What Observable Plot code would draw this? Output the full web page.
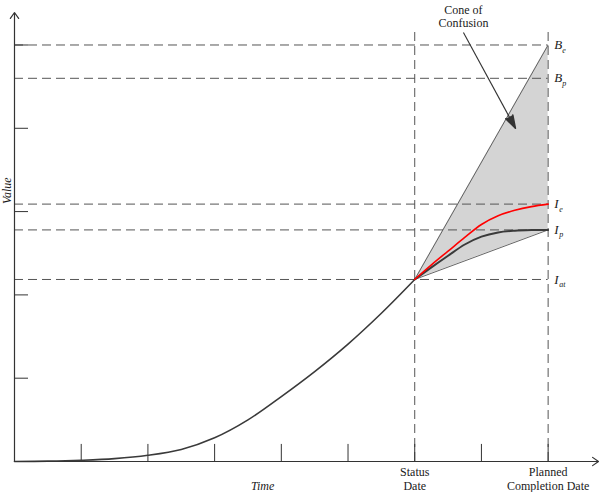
<!DOCTYPE html>
<html>
<head>
<meta charset="utf-8">
<script src="https://cdn.jsdelivr.net/npm/d3@7"></script>
<script src="https://cdn.jsdelivr.net/npm/@observablehq/plot@0.6"></script>
<style>
  html, body { margin: 0; padding: 0; background: #fff; }
</style>
</head>
<body>
<div id="chart"></div>
<script>
// ---- data ----
const timeTicks = [1, 2, 3, 4, 5, 6, 7, 8];
const valueTicks = [1, 2, 3, 4, 5];

// S-curve of actual progress up to the status date
const sCurveTime  = [0, 0.5, 1, 1.5, 2, 2.5, 3, 3.5, 4, 4.5, 5, 5.5, 6];
const sCurveValue = [0, 0.004, 0.015, 0.035, 0.075, 0.145, 0.285, 0.50, 0.78, 1.08, 1.41, 1.78, 2.185];

// forecast curves from status date to planned completion
const forecastTime = [6, 6.25, 6.5, 6.75, 7, 7.25, 7.5, 7.75, 8];
const forecastIe   = [2.185, 2.36, 2.525, 2.69, 2.845, 2.95, 3.015, 3.06, 3.09];
const forecastIp   = [2.185, 2.33, 2.47, 2.605, 2.70, 2.75, 2.77, 2.778, 2.78];

// cone of confusion
const coneTime = [6, 8];
const coneLow  = [2.185, 2.78];
const coneHigh = [2.185, 5.0];

// reference levels and their labels
const levelValues  = [5.0, 4.6, 3.09, 2.78, 2.185];
const levelLetters = ["B", "B", "I", "I", "I"];
const levelSubs    = ["e", "p", "e", "p", "at"];

// key dates
const dateTimes  = [6, 8];
const dateLabels = ["Status\nDate", "Planned\nCompletion Date"];

// annotation arrow (start, tip)
const noteText = "Cone of\nConfusion";
const noteFrom = [6.73, 5.15];
const noteTo   = [7.51, 4.0];

const xMax = 8.755, yMax = 5.39;

// ---- tables ----
const sCurve = sCurveTime.map((t, i) => ({t, v: sCurveValue[i]}));
const ieCurve = forecastTime.map((t, i) => ({t, v: forecastIe[i]}));
const ipCurve = forecastTime.map((t, i) => ({t, v: forecastIp[i]}));
const cone = coneTime.map((t, i) => ({t, lo: coneLow[i], hi: coneHigh[i]}));
const levels = levelValues.map((v, i) => ({v, letter: levelLetters[i], sub: levelSubs[i]}));
const dates = dateTimes.map((t, i) => ({t, label: dateLabels[i]}));
const dashTop = 5.17;

const serif = '"Liberation Serif", "Times New Roman", serif';
const ink = "#1a1a1a";
const dash = "9,5";
const chart = Plot.plot({
  width: 600,
  height: 492,
  marginLeft: 14,
  marginRight: 2,
  marginTop: 12,
  marginBottom: 31,
  x: {domain: [0, xMax], axis: null},
  y: {domain: [0, yMax], axis: null},
  style: {fontFamily: serif, fontSize: "12px", background: "white", color: ink},
  marks: [
    // cone
    Plot.areaY(cone, {x: "t", y1: "lo", y2: "hi", fill: "#d4d4d4"}),
    Plot.link([cone[0]], {x1: "t", y1: "lo", x2: () => cone[1].t, y2: () => cone[1].hi, stroke: "#555", strokeWidth: 0.9}),
    Plot.link([cone[0]], {x1: "t", y1: "lo", x2: () => cone[1].t, y2: () => cone[1].lo, stroke: "#555", strokeWidth: 0.9}),
    // dashed reference lines
    Plot.ruleY(levels, {y: "v", x1: 0, x2: coneTime[1], stroke: "#555", strokeDasharray: dash, strokeWidth: 1}),
    Plot.ruleX(dates, {x: "t", y1: 0, y2: dashTop, stroke: "#555", strokeDasharray: dash, strokeWidth: 1}),
    // ticks
    Plot.ruleX(timeTicks, {x: d => d, y1: 0, y2: 0.205, stroke: "#333", strokeWidth: 1}),
    Plot.ruleY(valueTicks, {y: d => d, x1: 0, x2: 0.21, stroke: "#333", strokeWidth: 1}),
    // curves
    Plot.line(sCurve, {x: "t", y: "v", stroke: "#3a3a3a", strokeWidth: 1.6, curve: "catmull-rom"}),
    Plot.line(ipCurve, {x: "t", y: "v", stroke: "#3a3a3a", strokeWidth: 2, curve: "catmull-rom"}),
    Plot.line(ieCurve, {x: "t", y: "v", stroke: "#ff0000", strokeWidth: 1.6, curve: "catmull-rom"}),
    // axes with arrows
    Plot.arrow([0], {x1: 0, y1: 0, x2: xMax, y2: 0, stroke: "#333", strokeWidth: 1.2, headLength: 9, headAngle: 70}),
    Plot.arrow([0], {x1: 0, y1: 0, x2: 0, y2: yMax, stroke: "#333", strokeWidth: 1.2, headLength: 9, headAngle: 70}),
    // annotation
    Plot.link([0], {x1: noteFrom[0], y1: noteFrom[1], x2: noteTo[0], y2: noteTo[1], stroke: "#333", strokeWidth: 1.1}),
    Plot.vector([0], {x: noteTo[0], y: noteTo[1], length: 13, rotate: 151.6, shape: "spike", r: 4, anchor: "end", fill: "#333", stroke: "#333"}),
    Plot.text([noteText], {x: noteFrom[0], y: noteFrom[1], text: d => d, lineAnchor: "bottom", dy: -5, lineHeight: 1.15, fontSize: 12, fontFamily: serif, fill: ink}),
    // level labels
    Plot.text(levels, {x: coneTime[1], y: "v", text: "letter", textAnchor: "start", dx: 6, fontStyle: "italic", fontSize: 13, fontFamily: serif, fill: ink}),
    Plot.text(levels.filter(d => d.letter === "B"), {x: coneTime[1], y: "v", text: "sub", textAnchor: "start", dx: 14, dy: 5, fontStyle: "italic", fontSize: 8, fontFamily: serif, fill: ink}),
    Plot.text(levels.filter(d => d.letter === "I"), {x: coneTime[1], y: "v", text: "sub", textAnchor: "start", dx: 11, dy: 5, fontStyle: "italic", fontSize: 8, fontFamily: serif, fill: ink}),
    // axis labels
    Plot.text(dates, {x: "t", y: 0, text: "label", lineAnchor: "top", dy: 4, lineHeight: 1.2, fontSize: 12, fontFamily: serif, fill: ink}),
    Plot.text(["Time"], {x: 3.72, y: 0, text: d => d, dy: 25, fontStyle: "italic", fontSize: 12, fontFamily: serif, fill: ink}),
    Plot.text(["Value"], {x: 0, y: 3.25, text: d => d, dx: -7, rotate: -90, fontStyle: "italic", fontSize: 12, fontFamily: serif, fill: ink})
  ]
});
document.getElementById("chart").appendChild(chart);
</script>
</body>
</html>
